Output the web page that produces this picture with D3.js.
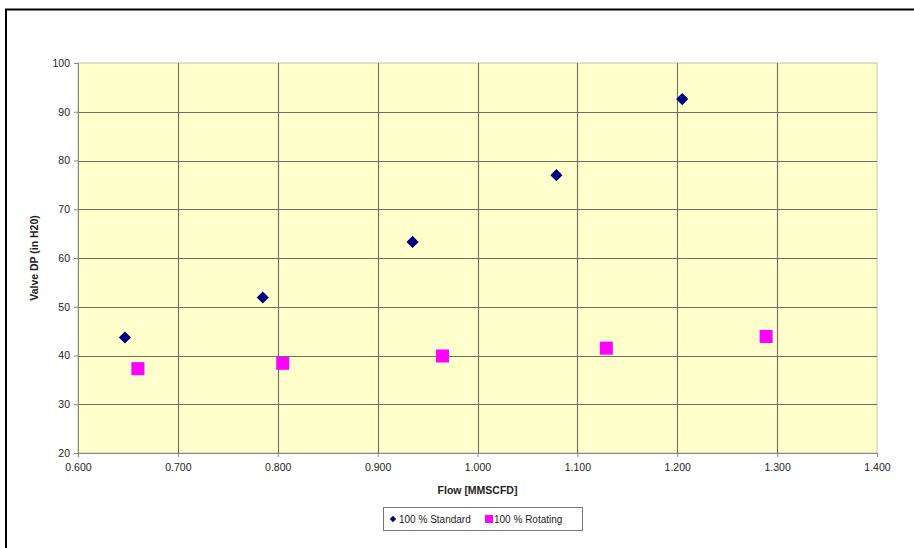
<!DOCTYPE html>
<html><head><meta charset="utf-8">
<script src="https://cdn.jsdelivr.net/npm/d3@7"></script>
<style>body{margin:0;background:#fff;} svg{display:block;font-family:Arial,"Liberation Sans",sans-serif;}</style>
</head><body>
<svg id="c" width="914" height="548"></svg>
<script>
const standardFlow = [0.647, 0.785, 0.935, 1.079, 1.205];
const standardDP   = [43.7, 51.9, 63.3, 77.0, 92.6];
const rotatingFlow = [0.660, 0.805, 0.965, 1.129, 1.289];
const rotatingDP   = [37.3, 38.4, 39.9, 41.5, 43.9];
const xTicks = [0.6, 0.7, 0.8, 0.9, 1.0, 1.1, 1.2, 1.3, 1.4];
const yTicks = [20, 30, 40, 50, 60, 70, 80, 90, 100];
const seriesNames = ["100 % Standard", "100 % Rotating"];

const svg = d3.select("#c");
// outer frame
svg.append("rect").attr("x",6).attr("y",9.5).attr("width",1000).attr("height",1000)
  .attr("fill","#fff").attr("stroke","#000").attr("stroke-width",2);

const L=78, R=877, T=63, B=453;
const x = d3.scaleLinear().domain([0.6,1.4]).range([L,R]);
const y = d3.scaleLinear().domain([20,100]).range([B,T]);

svg.append("rect").attr("x",L).attr("y",T).attr("width",R-L).attr("height",B-T)
  .attr("fill","#FFFFCC").attr("stroke","#c4c2b0").attr("stroke-width",1);

// gridlines
svg.append("g").selectAll("line").data(yTicks.slice(1,-1)).join("line")
  .attr("x1",L).attr("x2",R).attr("y1",d=>Math.round(y(d))+0.5).attr("y2",d=>Math.round(y(d))+0.5)
  .attr("stroke","#706e5e").attr("stroke-width",1.1);
svg.append("g").selectAll("line").data(xTicks.slice(1,-1)).join("line")
  .attr("y1",T).attr("y2",B).attr("x1",d=>Math.round(x(d))+0.5).attr("x2",d=>Math.round(x(d))+0.5)
  .attr("stroke","#706e5e").attr("stroke-width",1.1);

// axes
const xAxis = svg.append("g").attr("transform",`translate(0,${B})`)
  .call(d3.axisBottom(x).tickValues(xTicks).tickFormat(d3.format(".3f")).tickSize(4).tickPadding(7));
const yAxis = svg.append("g").attr("transform",`translate(${L},0)`)
  .call(d3.axisLeft(y).tickValues(yTicks).tickSize(4).tickPadding(4));
[xAxis,yAxis].forEach(g=>{
  g.select(".domain").attr("stroke","#888");
  g.selectAll(".tick line").attr("stroke","#888");
  g.selectAll("text").attr("fill","#222").style("font-size","10.5px").style("font-family","Arial,'Liberation Sans',sans-serif");
});

// titles
svg.append("text").attr("x",(L+R)/2).attr("y",494).attr("text-anchor","middle")
  .style("font-size","10.5px").style("font-weight","bold").attr("fill","#222").text("Flow [MMSCFD]");
svg.append("text").attr("transform",`translate(38,${(T+B)/2}) rotate(-90)`).attr("text-anchor","middle")
  .style("font-size","10.5px").style("font-weight","bold").attr("fill","#222").text("Valve DP (in H20)");

// points
const std = standardFlow.map((f,i)=>({f,v:standardDP[i]}));
const rot = rotatingFlow.map((f,i)=>({f,v:rotatingDP[i]}));
svg.append("g").selectAll("path").data(std).join("path")
  .attr("d",d3.symbol().type(d3.symbolSquare).size(74)())
  .attr("transform",d=>`translate(${x(d.f)},${y(d.v)}) rotate(45)`)
  .attr("fill","#000080");
svg.append("g").selectAll("path").data(rot).join("path")
  .attr("transform",d=>`translate(${x(d.f)},${y(d.v)})`)
  .attr("d",d3.symbol().type(d3.symbolSquare).size(170)()).attr("fill","#FF00FF");

// legend
const lg = svg.append("g");
lg.append("rect").attr("x",383.5).attr("y",507.5).attr("width",199).attr("height",23)
  .attr("fill","#fff").attr("stroke","#777");
lg.append("path").attr("transform","translate(393,519) rotate(45)")
  .attr("d",d3.symbol().type(d3.symbolSquare).size(20)()).attr("fill","#000080");
lg.append("text").attr("x",399).attr("y",523).style("font-size","10px").attr("fill","#222").text(seriesNames[0]);
lg.append("rect").attr("x",485).attr("y",515).attr("width",8).attr("height",8).attr("fill","#FF00FF");
lg.append("text").attr("x",494).attr("y",523).style("font-size","10px").attr("fill","#222").text(seriesNames[1]);
</script>
</body></html>
